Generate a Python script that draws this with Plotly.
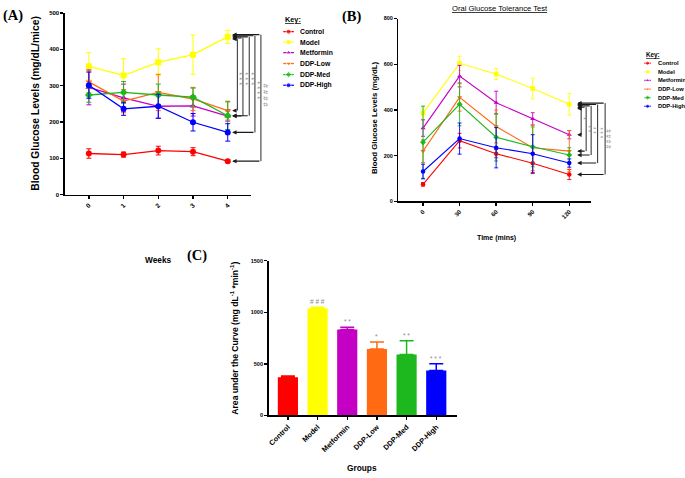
import plotly.graph_objects as go

W, H = 685, 478

# ---------------- data ----------------
groups = ["Control", "Model", "Metformin", "DDP-Low", "DDP-Med", "DDP-High"]
group_colors = ["#FF0000", "#FFFF00", "#C400C4", "#FF6A13", "#1DB81D", "#0000FF"]
group_symbols = ["circle", "square", "triangle-up", "triangle-down", "diamond", "circle"]

weeks = [0, 1, 2, 3, 4]
week_ticks = ["0", "1", "2", "3", "4"]
control_wk = [113, 110, 121, 118, 92]
model_wk = [353, 328, 364, 385, 434]
metformin_wk = [295, 266, 243, 244, 216]
ddp_low_wk = [310, 257, 281, 263, 231]
ddp_med_wk = [274, 281, 274, 268, 217]
ddp_high_wk = [301, 236, 243, 199, 171]
control_wk_err = [13, 7, 12, 11, 4]
model_wk_err = [38, 46, 37, 54, 18]
metformin_wk_err = [48, 38, 33, 28, 14]
ddp_low_wk_err = [30, 32, 50, 32, 26]
ddp_med_wk_err = [20, 30, 30, 25, 38]
ddp_high_wk_err = [36, 18, 33, 24, 24]

times = [0, 30, 60, 90, 120]
time_ticks = ["0", "30", "60", "90", "120"]
control_ogtt = [75, 266, 209, 167, 118]
model_ogtt = [386, 604, 557, 494, 425]
metformin_ogtt = [321, 548, 432, 361, 292]
ddp_low_ogtt = [220, 455, 328, 235, 220]
ddp_med_ogtt = [259, 425, 281, 239, 203]
ddp_high_ogtt = [131, 275, 235, 209, 168]
control_ogtt_err = [8, 32, 18, 45, 22]
model_ogtt_err = [29, 31, 24, 45, 47]
metformin_ogtt_err = [36, 47, 50, 27, 18]
ddp_low_ogtt_err = [50, 60, 72, 100, 90]
ddp_med_ogtt_err = [158, 94, 104, 87, 32]
ddp_high_ogtt_err = [32, 68, 88, 83, 18]

auc_values = [370, 1037, 833, 645, 592, 436]
auc_errors = [13, 12, 22, 67, 133, 65]
auc_marks = ["", "###", "**", "*", "**", "***"]

wk_compare = ["DDP-Low", "Metformin", "DDP-Med", "DDP-High", "Control"]
wk_compare_marks = ["***", "***", "***", "****", "####"]
ogtt_compare = ["Metformin", "DDP-Low", "DDP-Med", "DDP-High", "Control"]
ogtt_compare_marks = ["*", "**", "**", "***", "####"]

wk_series = [control_wk, model_wk, metformin_wk, ddp_low_wk, ddp_med_wk, ddp_high_wk]
wk_errs = [control_wk_err, model_wk_err, metformin_wk_err, ddp_low_wk_err, ddp_med_wk_err, ddp_high_wk_err]
ogtt_series = [control_ogtt, model_ogtt, metformin_ogtt, ddp_low_ogtt, ddp_med_ogtt, ddp_high_ogtt]
ogtt_errs = [control_ogtt_err, model_ogtt_err, metformin_ogtt_err, ddp_low_ogtt_err, ddp_med_ogtt_err, ddp_high_ogtt_err]

# ---------------- helpers ----------------
def fx(px):
    return px / W


def fy(py):
    return 1 - py / H


def spaced(s):
    return " ".join(s)


FONT = "Arial, Liberation Sans, sans-serif"
SERIF = "Times New Roman, Liberation Serif, serif"

fig = go.Figure()

# Panel A lines
for g, c, s, ys, es in zip(groups, group_colors, group_symbols, wk_series, wk_errs):
    fig.add_trace(go.Scatter(
        x=weeks, y=ys, mode="lines+markers", name=g,
        line=dict(color=c, width=1.3),
        marker=dict(color=c, size=6, symbol=s),
        error_y=dict(type="data", array=es, color=c, thickness=1, width=2.5),
        xaxis="x", yaxis="y", showlegend=False, cliponaxis=False))

# Panel B lines
for g, c, s, ys, es in zip(groups, group_colors, group_symbols, ogtt_series, ogtt_errs):
    fig.add_trace(go.Scatter(
        x=times, y=ys, mode="lines+markers", name=g,
        line=dict(color=c, width=1.1),
        marker=dict(color=c, size=4.5, symbol=s),
        error_y=dict(type="data", array=es, color=c, thickness=0.9, width=2),
        xaxis="x2", yaxis="y2", showlegend=False, cliponaxis=False))

# Panel C bars
for g, c, v, e in zip(groups, group_colors, auc_values, auc_errors):
    fig.add_trace(go.Bar(
        x=[g], y=[v], width=0.68, marker=dict(color=c, line=dict(width=0)),
        error_y=dict(type="data", symmetric=False, array=[e], arrayminus=[0],
                     color=c, thickness=1.5, width=7),
        xaxis="x3", yaxis="y3", showlegend=False, name=g))

annotations = []
shapes = []


# Keys (drawn on an invisible full-page pixel axis)
def add_key(x0, x1, text_x, key_y, rows_y, fsize, msize):
    for g, c, s, yy in zip(groups, group_colors, group_symbols, rows_y):
        fig.add_trace(go.Scatter(
            x=[x0, (x0 + x1) / 2, x1], y=[yy, yy, yy], mode="lines+markers",
            line=dict(color=c, width=1.3),
            marker=dict(color=c, size=[0, msize, 0], symbol=s),
            xaxis="x4", yaxis="y4", showlegend=False, hoverinfo="skip"))
        annotations.append(dict(x=fx(text_x), y=fy(yy), xref="paper", yref="paper",
                                text="<b>%s</b>" % g, showarrow=False, xanchor="left",
                                yanchor="middle", font=dict(size=fsize, family=FONT, color="black")))
    annotations.append(dict(x=fx(x0), y=fy(key_y), xref="paper", yref="paper",
                            text="<b><u>Key:</u></b>", showarrow=False, xanchor="left",
                            yanchor="middle", font=dict(size=fsize + 0.5, family=FONT, color="black")))


add_key(282.7, 293.3, 297.5, 16.7, [29, 39.5, 50.3, 61.3, 72.5, 83.3], 6.8, 5)
add_key(644.3, 650.7, 655.5, 52.3, [61, 69.7, 78.4, 87.2, 95.8, 104.6], 5.8, 4)


def brackets(yref, head_px, xb_list, compare, series, model_last, offsets,
             marks, mark_x, mark_y, msize):
    for xb, name, off, mk, mxp, myv in zip(xb_list, compare, offsets, marks, mark_x, mark_y):
        bottom = series[groups.index(name)][-1]
        top = model_last + off
        shapes.append(dict(type="line", xref="paper", yref=yref,
                           x0=fx(xb), x1=fx(xb), y0=top, y1=bottom,
                           line=dict(color="#2a2a2a", width=1)))
        for v in (top, bottom):
            annotations.append(dict(
                x=fx(head_px), y=v, xref="paper", yref=yref,
                ax=xb - head_px, ay=0, axref="pixel", ayref="pixel",
                showarrow=True, arrowhead=2, arrowsize=0.8, arrowwidth=1.1,
                arrowcolor="#1a1a1a", text="", font=dict(size=1), standoff=0))
        annotations.append(dict(
            x=fx(mxp), y=myv, xref="paper", yref=yref, text=spaced(mk), showarrow=False,
            textangle=90, font=dict(size=msize, family=FONT, color="#8a8a8a"),
            xanchor="center", yanchor="middle"))


brackets("y", 231.5, [236.7, 242.3, 248.6, 254.3, 260.3], wk_compare, wk_series,
         model_wk[-1], [-6, -3, 0, 3, 6], wk_compare_marks,
         [239.5, 245.5, 251.5, 257.3, 265.0], [320, 320, 320, 287, 273], 7.5)
brackets("y2", 577.0, [581, 586, 591, 597.5, 605], ogtt_compare, ogtt_series,
         model_ogtt[-1], [-19, -13, -7, -1, 5], ogtt_compare_marks,
         [583.7, 588.7, 593.8, 600.8, 609.0], [360, 315, 308, 298, 272], 6.3)

# asterisks over bars (C)
for g, v, e, mk in zip(groups, auc_values, auc_errors, auc_marks):
    if mk:
        annotations.append(dict(x=g, y=v + e, xref="x3", yref="y3", text=spaced(mk),
                                showarrow=False, yanchor="bottom", yshift=0,
                                font=dict(size=6.5, family=FONT, color="#8a8a8a")))


# axis titles, panel labels, chart title
def txt(px, py, s, size, angle=0, family=FONT):
    annotations.append(dict(x=fx(px), y=fy(py), xref="paper", yref="paper", text=s,
                            showarrow=False, textangle=angle, xanchor="center",
                            yanchor="middle", font=dict(size=size, family=family, color="black")))


txt(34.3, 101.7, "<b>Blood Glucose Levels (mg/dL/mice)</b>", 10.3, -90)
txt(158, 260, "<b>Weeks</b>", 8.3)
txt(374.3, 115.8, "<b>Blood Glucose Levels (mg/dL)</b>", 7.8, -90)
txt(496.7, 238, "<b>Time (mins)</b>", 7)
txt(499.3, 5.5, "<u>Oral Glucose Tolerance Test</u>", 7.6)
txt(234.3, 339, "<b>Area under the Curve (mg dL<sup>-1</sup> *min<sup>-1</sup>)</b>", 8.6, -90)
txt(361.5, 471, "<b>Groups</b>", 8.3)
txt(12, 12.5, "<b>(A)</b>", 14.5, 0, SERIF)
txt(352, 13.5, "<b>(B)</b>", 14.5, 0, SERIF)
txt(196, 256, "<b>(C)</b>", 14.5, 0, SERIF)

axis_common = dict(showline=True, linecolor="black", linewidth=1.5, ticks="outside",
                   ticklen=3, tickwidth=1.3, tickcolor="black", showgrid=False,
                   zeroline=False, fixedrange=True)


def tickf(s):
    return dict(size=s, family=FONT, color="black", weight="bold")


fig.update_layout(
    width=W, height=H, margin=dict(l=0, r=0, t=0, b=0),
    paper_bgcolor="white", plot_bgcolor="rgba(0,0,0,0)",
    showlegend=False, barmode="overlay", hovermode=False,
    font=dict(family=FONT, color="black"),
    xaxis=dict(domain=[fx(64), fx(250)], range=[-0.69, 4.66], anchor="y",
               tickvals=weeks, ticktext=week_ticks, tickangle=-45,
               tickfont=tickf(6.5), **axis_common),
    yaxis=dict(domain=[fy(194), fy(10)], range=[0, 500], anchor="x",
               tickvals=[0, 100, 200, 300, 400, 500], tickfont=tickf(6), **axis_common),
    xaxis2=dict(domain=[fx(398), fx(590.7)], range=[-20.2, 137.7], anchor="y2",
                tickvals=times, ticktext=time_ticks, tickangle=-45,
                tickfont=tickf(6), **axis_common),
    yaxis2=dict(domain=[fy(201), fy(15.7)], range=[0, 800], anchor="x2",
                tickvals=[0, 200, 400, 600, 800], tickfont=tickf(5.5), **axis_common),
    xaxis3=dict(domain=[fx(268), fx(456.7)], range=[-0.65, 5.7], anchor="y3",
                type="category", categoryorder="array", categoryarray=groups,
                tickangle=-45, tickfont=tickf(7.3), **axis_common),
    yaxis3=dict(domain=[fy(417.7), fy(261)], range=[0, 1500], anchor="x3",
                tickvals=[0, 500, 1000, 1500], tickfont=tickf(5.5), **axis_common),
    xaxis4=dict(domain=[0, 1], range=[0, W], anchor="y4", visible=False, fixedrange=True),
    yaxis4=dict(domain=[0, 1], range=[H, 0], anchor="x4", visible=False, fixedrange=True),
    annotations=annotations, shapes=shapes,
)

fig.write_html("out.html", config={"displayModeBar": False, "staticPlot": True},
               post_script="document.body.style.margin='0px';document.body.style.overflow='hidden';")
